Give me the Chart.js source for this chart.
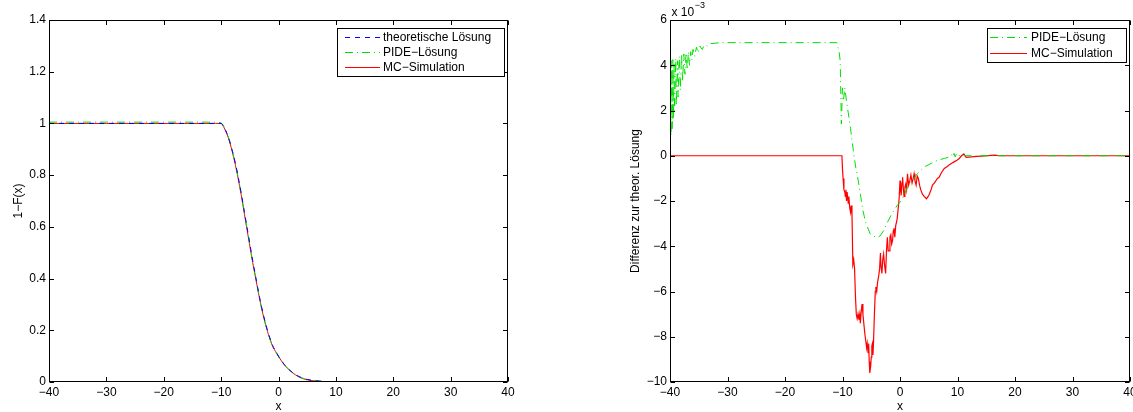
<!DOCTYPE html>
<html>
<head>
<meta charset="utf-8">
<script src="https://cdn.jsdelivr.net/npm/chart.js@4.4.0/dist/chart.umd.min.js"></script>
<style>
  html, body { margin: 0; padding: 0; background: #fff; }
  #wrap { position: relative; width: 1133px; height: 412px; }
  .pane { position: absolute; top: 0; height: 412px; }
  #left { left: 0; width: 566px; }
  #right { left: 566px; width: 567px; }
</style>
</head>
<body>
<div id="wrap">
  <div class="pane" id="left"><canvas id="cdf-chart" width="566" height="412"></canvas></div>
  <div class="pane" id="right"><canvas id="diff-chart" width="567" height="412"></canvas></div>
</div>
<script>
// ---- data ----
var xTicks = [-40, -30, -20, -10, 0, 10, 20, 30, 40];
var leftYTicks = [0, 0.2, 0.4, 0.6, 0.8, 1, 1.2, 1.4];
var rightYTicks = [-10, -8, -6, -4, -2, 0, 2, 4, 6];

var labelTheo = 'theoretische Lösung';
var labelPide = 'PIDE\u2212Lösung';
var labelMc = 'MC\u2212Simulation';

// 1-F(x): theoretical, PIDE and Monte Carlo
var leftX = [-40, -30, -20, -11, -10, -9.5, -9, -8.5, -8, -7.5, -7, -6.5, -6, -5.5, -5, -4.5, -4, -3.5, -3, -2.5,
  -2, -1.5, -1, -0.5, 0, 1, 2, 3, 4, 5, 6, 8, 10, 12, 20, 30, 40];
var leftTheo = [1, 1, 1, 1, 1, 0.985, 0.962, 0.93, 0.89, 0.845, 0.79, 0.73, 0.665, 0.6, 0.535, 0.47, 0.41, 0.35, 0.295, 0.248,
  0.206, 0.17, 0.14, 0.12, 0.1, 0.068, 0.045, 0.028, 0.017, 0.010, 0.006, 0.002, 0.0006, 0.0002, 0, 0, 0];
var leftPide = [1.005, 1.005, 1.005, 1.005, 1.0015, 0.988, 0.964, 0.931, 0.889, 0.844, 0.788, 0.728, 0.662, 0.597, 0.532, 0.466, 0.406, 0.347, 0.292, 0.245,
  0.203, 0.168, 0.138, 0.118, 0.098, 0.0665, 0.044, 0.027, 0.0165, 0.0096, 0.0058, 0.0019, 0.0006, 0.0002, 0, 0, 0];
var leftMc = [1, 1, 1, 1, 1, 0.9835, 0.96, 0.9275, 0.885, 0.838, 0.783, 0.7234, 0.657, 0.5915, 0.526, 0.4625, 0.404, 0.345, 0.2905, 0.243,
  0.202, 0.1663, 0.1368, 0.1174, 0.0989, 0.0668, 0.0441, 0.0271, 0.0152, 0.0084, 0.005, 0.0015, 0.0004, 0.0002, 0, 0, 0];

// difference to the theoretical solution, in units of 1e-3
var pideDiffX = [-40, -39.9, -39.8, -39.7, -39.6, -39.5, -39.4, -39.3, -39.2, -39.0, -38.9, -38.7, -38.6, -38.4, -38.2, -38.0,
  -37.8, -37.6, -37.4, -37.2, -37.0, -36.8, -36.6, -36.4, -36.2, -36.0, -35.7, -35.4, -35.1, -34.8, -34.4, -34.0, -33.5, -33,
  -32, -31, -11, -10.6, -10.4, -10.2, -10.0, -9.8, -9.6, -9.3, -9.0, -8.6, -8.3, -8.0, -7.7, -7.4, -7.1, -6.8, -6.5, -6.2,
  -5.9, -5.5, -5.2, -4.7, -4.0, -3.5, -2.8, -2.2, -1.6, -1.0, -0.5, 0, 0.6, 1.3, 2.0, 3.0, 4.2, 5.4, 6.5, 7.7, 8.5, 9.0,
  9.2, 9.4, 9.6, 9.8, 10.0, 10.4, 11, 40];
var pideDiffY = [0.6, 4.0, 0.9, 4.2, 1.2, 4.25, 1.6, 4.1, 2.0, 4.3, 2.2, 4.2, 2.6, 4.4, 2.9, 4.5,
  3.3, 4.5, 3.6, 4.55, 3.8, 4.6, 4.0, 4.6, 4.25, 4.7, 4.4, 4.8, 4.55, 4.85, 4.7, 4.9, 4.85, 4.95,
  4.98, 5.0, 5.0, 4.6, 4.2, 1.4, 3.0, 2.5, 3.0, 2.4, 1.9, 1.2, 0.6, 0.0, -0.5, -0.9, -1.35, -1.85, -2.35, -2.7,
  -3.0, -3.25, -3.45, -3.55, -3.6, -3.55, -3.3, -2.95, -2.65, -2.4, -2.2, -2.05, -1.8, -1.4, -1.15, -0.8, -0.5, -0.34, -0.2, -0.12, -0.06, 0.05,
  -0.05, 0.1, -0.05, 0.07, -0.03, 0.02, 0, 0];

var mcDiffX = [-40, -10.1, -10.0, -9.9, -9.75, -9.6, -9.5, -9.4, -9.3, -9.2, -9.0, -8.9, -8.75, -8.6, -8.5, -8.35,
  -8.2, -8.05, -7.9, -7.75, -7.6, -7.45, -7.3, -7.15, -7.0, -6.9, -6.75, -6.6, -6.45, -6.3, -6.1, -5.95, -5.8, -5.7,
  -5.55, -5.45, -5.35, -5.25, -5.1, -5.0, -4.9, -4.8, -4.7, -4.6, -4.45, -4.3, -4.2, -4.05, -3.9, -3.7, -3.55, -3.4,
  -3.3, -3.15, -3.0, -2.85, -2.7, -2.5, -2.35, -2.2, -2.05, -1.9, -1.75, -1.6, -1.45, -1.3, -1.15, -1.05, -0.9, -0.75,
  -0.5, -0.3, -0.15, 0.0, 0.1, 0.2, 0.35, 0.45, 0.6, 0.7, 0.85, 1.0, 1.15, 1.3, 1.5, 1.7, 1.9, 2.1, 2.3, 2.45, 2.6,
  2.8, 3.0, 3.2, 3.4, 3.6, 3.9, 4.2, 4.6, 4.9, 5.1, 5.4, 5.65, 6.0, 6.5, 6.8, 7.2, 7.7, 8.1, 8.6, 9.0, 9.4, 9.9, 10.3,
  10.7, 11.1, 11.5, 12.4, 14.1, 16.4, 17.5, 40];
var mcDiffY = [0, 0, -0.6, -1.0, -1.5, -1.6, -1.8, -1.5, -2.0, -1.6, -2.1, -1.8, -2.3, -2.5, -2.2, -2.6,
  -4.8, -4.6, -5.0, -6.2, -7.0, -7.2, -7.0, -7.25, -7.0, -7.4, -6.9, -6.55, -7.0, -7.4, -7.9, -8.2, -8.5, -8.3,
  -8.7, -8.3, -9.1, -9.6, -9.3, -8.9, -8.4, -8.3, -8.8, -8.2, -7.0, -6.0, -5.8, -6.0, -5.6, -5.3, -5.0, -4.3,
  -4.9, -5.2, -4.6, -4.35, -4.8, -5.2, -4.2, -3.6, -4.2, -4.2, -3.6, -3.5, -3.9, -3.75, -3.3, -3.2, -3.6, -3.1,
  -2.8, -2.3, -1.9, -1.1, -1.5, -1.75, -1.2, -0.95, -1.5, -1.8, -1.4, -1.25, -1.5, -0.8, -1.3, -1.1, -0.85, -1.2, -1.0, -0.8, -1.1,
  -1.3, -0.9, -1.0, -1.3, -1.5, -1.7, -1.8, -1.9, -1.8, -1.7, -1.5, -1.3, -1.2, -1.0, -0.95, -0.75, -0.56, -0.5, -0.4, -0.33, -0.27, -0.2, -0.12,
  0.0, 0.08, -0.07, -0.05, -0.02, 0.03, 0, 0];

// ---- helpers ----
function pts(xs, ys) {
  return xs.map(function (x, i) { return { x: x, y: ys[i] }; });
}
function fmt(v) {
  return String(v).replace('-', '\u2212');
}

Chart.defaults.font.family = "'Liberation Sans', Arial, sans-serif";
Chart.defaults.font.size = 12;
Chart.defaults.color = '#000';

// box around the plot with inward ticks on all four sides
var frameTicks = {
  id: 'frameTicks',
  afterDatasetsDraw: function (chart) {
    var ctx = chart.ctx, a = chart.chartArea;
    var xs = chart.scales.x, ys = chart.scales.y;
    var L = Math.round(a.left) + 0.5, R = Math.round(a.right) - 0.5;
    var T = Math.round(a.top) + 0.5, B = Math.round(a.bottom) - 0.5;
    var len = 4.5;
    ctx.save();
    ctx.strokeStyle = '#000';
    ctx.lineWidth = 1;
    ctx.setLineDash([]);
    ctx.strokeRect(L, T, R - L, B - T);
    ctx.beginPath();
    xs.ticks.forEach(function (t) {
      var p = Math.round(xs.getPixelForValue(t.value)) + 0.5;
      ctx.moveTo(p, B); ctx.lineTo(p, B - len);
      ctx.moveTo(p, T); ctx.lineTo(p, T + len);
    });
    ys.ticks.forEach(function (t) {
      var p = Math.round(ys.getPixelForValue(t.value)) + 0.5;
      ctx.moveTo(L, p); ctx.lineTo(L + len, p);
      ctx.moveTo(R, p); ctx.lineTo(R - len, p);
    });
    ctx.stroke();
    ctx.restore();
  }
};

// boxed legend inside the plot, built from the datasets
var boxLegend = {
  id: 'boxLegend',
  afterDraw: function (chart, args, o) {
    if (!o || !o.w) return;
    var ctx = chart.ctx;
    ctx.save();
    ctx.fillStyle = '#fff';
    ctx.fillRect(o.x, o.y, o.w, o.h);
    ctx.strokeStyle = '#000';
    ctx.lineWidth = 1;
    ctx.strokeRect(o.x, o.y, o.w, o.h);
    ctx.font = "12px 'Liberation Sans', Arial, sans-serif";
    ctx.textBaseline = 'middle';
    ctx.textAlign = 'left';
    chart.data.datasets.forEach(function (ds, i) {
      var y = Math.round(o.row0 + i * o.step) + 0.5;
      ctx.strokeStyle = ds.borderColor;
      ctx.lineWidth = ds.borderWidth;
      ctx.setLineDash(ds.borderDash || []);
      ctx.beginPath();
      ctx.moveTo(o.lineFrom, y);
      ctx.lineTo(o.lineTo, y);
      ctx.stroke();
      ctx.fillStyle = '#000';
      ctx.fillText(ds.label, o.textX, y);
    });
    ctx.restore();
  }
};

// "x 10^-3" scale factor above the y axis
var expLabel = {
  id: 'expLabel',
  afterDraw: function (chart, args, o) {
    if (!o || !o.text) return;
    var ctx = chart.ctx;
    ctx.save();
    ctx.fillStyle = '#000';
    ctx.textBaseline = 'middle';
    ctx.textAlign = 'left';
    ctx.font = "12px 'Liberation Sans', Arial, sans-serif";
    ctx.fillText(o.text, o.x, o.y);
    var w = ctx.measureText(o.text).width;
    ctx.font = "9px 'Liberation Sans', Arial, sans-serif";
    ctx.fillText(o.sup, o.x + w + 0.5, o.y - 7);
    ctx.restore();
  }
};

function axes(yMin, yMax, yTicks, yTitle, yWidth, yTitlePad) {
  return {
    x: {
      type: 'linear', min: -40, max: 40,
      afterBuildTicks: function (s) { s.ticks = xTicks.map(function (v) { return { value: v }; }); },
      afterFit: function (s) { s.height = 30; s.paddingLeft = 0; s.paddingRight = 0; },
      ticks: { callback: fmt, padding: 3, maxRotation: 0, autoSkip: false },
      grid: { display: false, drawTicks: false },
      border: { display: false },
      title: { display: true, text: 'x', padding: { top: 0, bottom: -1.5 } }
    },
    y: {
      type: 'linear', min: yMin, max: yMax,
      afterBuildTicks: function (s) { s.ticks = yTicks.map(function (v) { return { value: v }; }); },
      afterFit: function (s) { s.width = yWidth; s.paddingTop = 0; s.paddingBottom = 0; },
      ticks: { callback: fmt, padding: 3, autoSkip: false },
      grid: { display: false, drawTicks: false },
      border: { display: false },
      title: { display: true, text: yTitle, padding: { top: yTitlePad, bottom: 0 } }
    }
  };
}

function lineSet(label, data, color, width, dash, smooth) {
  return {
    label: label,
    data: data,
    borderColor: color,
    borderWidth: width,
    borderDash: dash,
    pointRadius: 0,
    showLine: true,
    fill: false,
    tension: 0,
    cubicInterpolationMode: smooth ? 'monotone' : 'default'
  };
}

// ---- left: 1-F(x) ----
new Chart('cdf-chart', {
  type: 'scatter',
  data: {
    datasets: [
      lineSet(labelTheo, pts(leftX, leftTheo), '#0000ff', 1, [5, 5], true),
      lineSet(labelPide, pts(leftX, leftPide), '#00e000', 1, [8, 4, 1, 4], true),
      lineSet(labelMc, pts(leftX, leftMc), '#ff0000', 1, [], true)
    ]
  },
  options: {
    responsive: false,
    animation: false,
    layout: { padding: { left: 0, top: 20, right: 58, bottom: 0 } },
    scales: axes(0, 1.4, leftYTicks, '1\u2212F(x)', 49, 11.5),
    plugins: {
      legend: { display: false },
      tooltip: { enabled: false },
      boxLegend: { x: 337.5, y: 28.5, w: 167, h: 48, lineFrom: 345, lineTo: 380, textX: 383, row0: 37, step: 15 }
    }
  },
  plugins: [frameTicks, boxLegend]
});

// ---- right: difference to the theoretical solution ----
new Chart('diff-chart', {
  type: 'scatter',
  data: {
    datasets: [
      lineSet(labelPide, pts(pideDiffX, pideDiffY), '#00e000', 1, [8, 4, 1, 4], false),
      lineSet(labelMc, pts(mcDiffX, mcDiffY), '#ff0000', 1.2, [], false)
    ]
  },
  options: {
    responsive: false,
    animation: false,
    layout: { padding: { left: 0, top: 20, right: 3, bottom: 0 } },
    scales: axes(-10, 6, rightYTicks, 'Differenz zur theor. Lösung', 104, 62.5),
    plugins: {
      legend: { display: false },
      tooltip: { enabled: false },
      boxLegend: { x: 421.5, y: 28.5, w: 139, h: 34, lineFrom: 424, lineTo: 461, textX: 465, row0: 37, step: 15.5 },
      expLabel: { text: 'x 10', sup: '\u22123', x: 105.5, y: 12.5 }
    }
  },
  plugins: [frameTicks, boxLegend, expLabel]
});
</script>
</body>
</html>
